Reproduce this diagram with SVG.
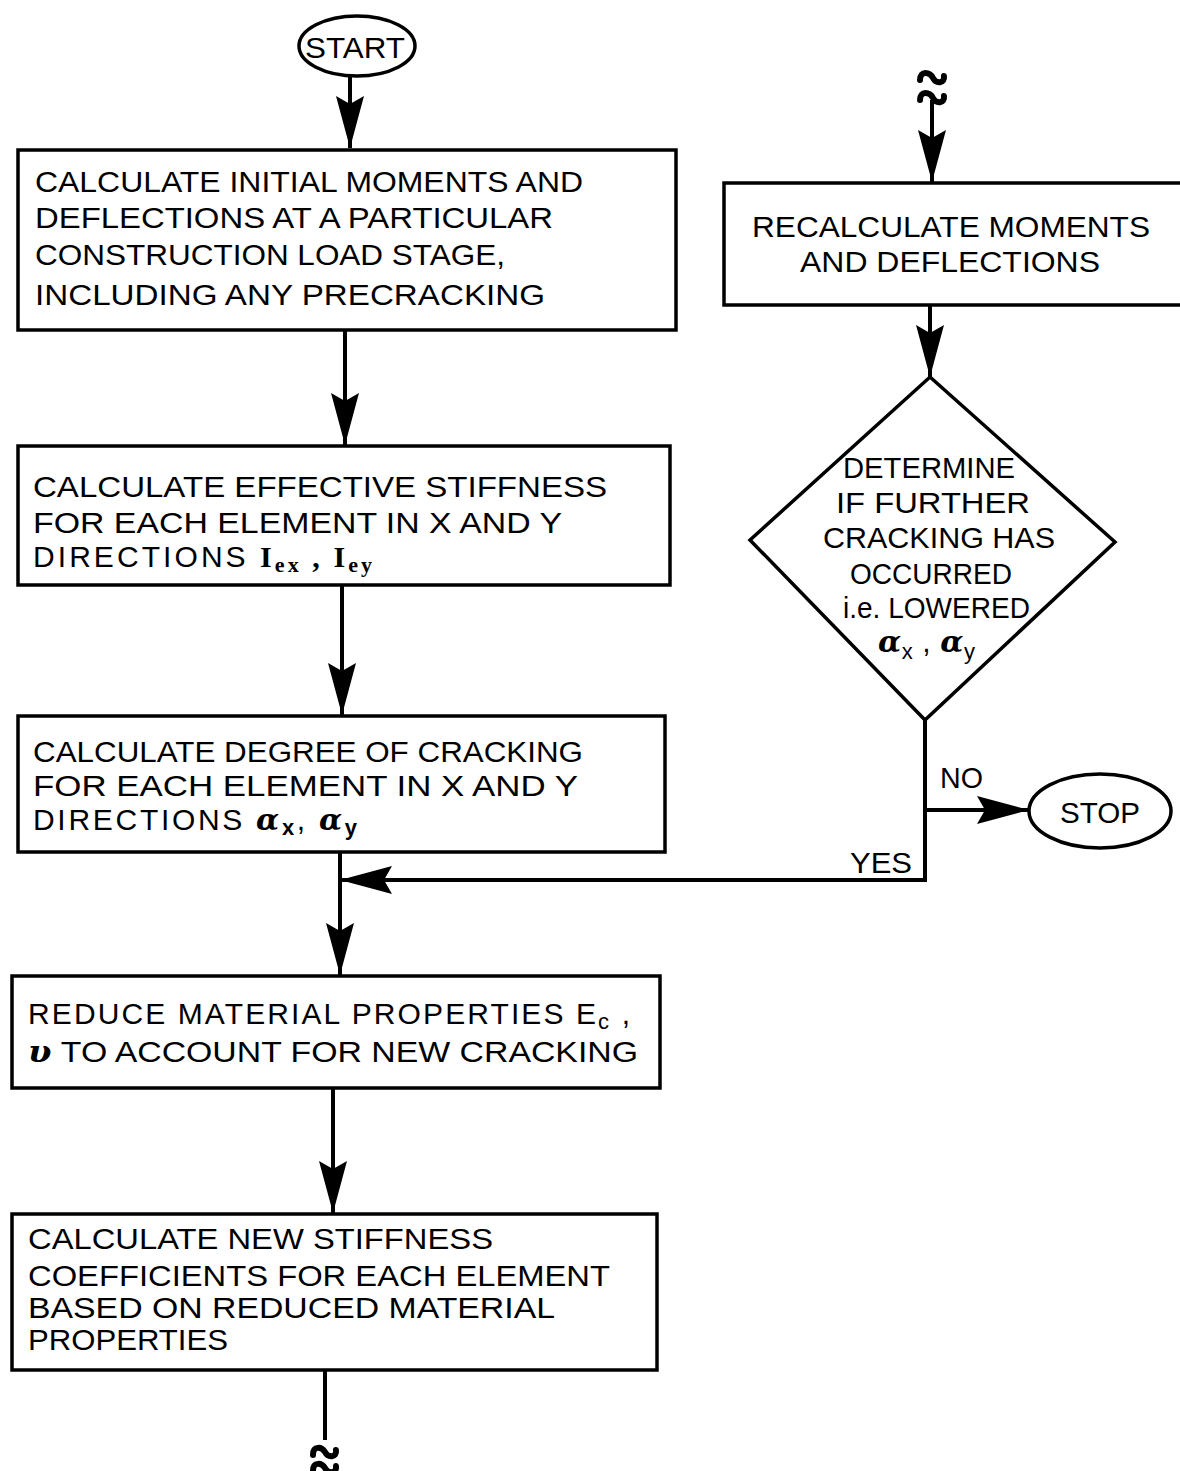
<svg xmlns="http://www.w3.org/2000/svg" width="1180" height="1471" viewBox="0 0 1180 1471">
<style>
.box{fill:#fff;stroke:#000;stroke-width:3.5}
.t{font-family:"Liberation Sans",Arial,sans-serif;font-size:30px;fill:#000}
.ln{fill:none;stroke:#000;stroke-width:4}
.brk{fill:none;stroke:#000;stroke-width:6;stroke-linecap:round}
.sub{font-size:22px}
.gr{font-family:"DejaVu Serif",serif;font-style:italic;font-weight:bold}
</style>
<defs>
<marker id="ah" markerUnits="userSpaceOnUse" markerWidth="56" markerHeight="30" refX="52" refY="14" orient="auto">
<path d="M0,0 L52,14 L0,28 L8,14 z" fill="#000"/>
</marker>
</defs>
<rect width="1180" height="1471" fill="#fff"/>

<g id="connectors">
<line class="ln" x1="350" y1="76" x2="350" y2="148" marker-end="url(#ah)"/>
<line class="ln" x1="345" y1="330" x2="345" y2="445" marker-end="url(#ah)"/>
<line class="ln" x1="342" y1="585" x2="342" y2="715" marker-end="url(#ah)"/>
<line class="ln" x1="340" y1="852" x2="340" y2="975" marker-end="url(#ah)"/>
<line class="ln" x1="333" y1="1088" x2="333" y2="1213" marker-end="url(#ah)"/>
<line class="ln" x1="325" y1="1370" x2="325" y2="1440"/>
<line class="ln" x1="932" y1="100" x2="932" y2="182" marker-end="url(#ah)"/>
<line class="ln" x1="930" y1="305" x2="930" y2="377" marker-end="url(#ah)"/>
<polyline class="ln" points="925,720 925,880 340,880" marker-end="url(#ah)"/>
<line class="ln" x1="925" y1="810" x2="1029" y2="810" marker-end="url(#ah)"/>
<path class="brk" d="M920,80 C920,70 930,72 933,78 C936,84 945,84 944,76"/>
<path class="brk" d="M920,100 C920,90 930,92 933,98 C936,104 945,104 944,96"/>
<path class="brk" d="M313,1455 C313,1445 322,1447 325,1452 C328,1458 337,1458 336,1450"/>
<path class="brk" d="M313,1471 C313,1461 322,1463 325,1468 C328,1474 337,1474 336,1466"/>
<text class="t" x="940" y="788" textLength="43" lengthAdjust="spacingAndGlyphs">NO</text>
<text class="t" x="850" y="873" textLength="62" lengthAdjust="spacingAndGlyphs">YES</text>
</g>

<g id="start">
<ellipse cx="357" cy="46" rx="58" ry="30" class="box"/>
<text class="t" x="305" y="58" textLength="100" lengthAdjust="spacingAndGlyphs">START</text>
</g>

<g id="box1">
<rect class="box" x="18" y="150" width="658" height="180"/>
<text class="t" x="35" y="192" textLength="548" lengthAdjust="spacingAndGlyphs">CALCULATE INITIAL MOMENTS AND</text>
<text class="t" x="35" y="228" textLength="518" lengthAdjust="spacingAndGlyphs">DEFLECTIONS AT A PARTICULAR</text>
<text class="t" x="35" y="265" textLength="470" lengthAdjust="spacingAndGlyphs">CONSTRUCTION LOAD STAGE,</text>
<text class="t" x="35" y="305" textLength="510" lengthAdjust="spacingAndGlyphs">INCLUDING ANY PRECRACKING</text>
</g>

<g id="box2">
<rect class="box" x="18" y="446" width="652" height="139"/>
<text class="t" x="33" y="497" textLength="574" lengthAdjust="spacingAndGlyphs">CALCULATE EFFECTIVE STIFFNESS</text>
<text class="t" x="33" y="533" textLength="529" lengthAdjust="spacingAndGlyphs">FOR EACH ELEMENT IN X AND Y</text>
<text class="t" x="33" y="567" textLength="339" lengthAdjust="spacing">DIRECTIONS  <tspan font-family="Liberation Serif" font-weight="bold">I<tspan class="sub" dy="5">ex</tspan><tspan dy="-5"> , I</tspan><tspan class="sub" dy="5">ey</tspan></tspan></text>
</g>

<g id="box3">
<rect class="box" x="18" y="716" width="647" height="136"/>
<text class="t" x="33" y="762" textLength="550" lengthAdjust="spacingAndGlyphs">CALCULATE DEGREE OF CRACKING</text>
<text class="t" x="33" y="796" textLength="545" lengthAdjust="spacingAndGlyphs">FOR EACH ELEMENT IN X AND Y</text>
<text class="t" x="33" y="830" textLength="324" lengthAdjust="spacing">DIRECTIONS <tspan class="gr">α</tspan><tspan class="sub" dy="5" font-weight="bold">x</tspan><tspan dy="-5">, </tspan><tspan class="gr">α</tspan><tspan class="sub" dy="5" font-weight="bold">y</tspan></text>
</g>

<g id="box4">
<rect class="box" x="12" y="976" width="648" height="112"/>
<text class="t" x="28" y="1024" textLength="602" lengthAdjust="spacing">REDUCE MATERIAL PROPERTIES E<tspan class="sub" font-size="20" dy="5">c</tspan><tspan dy="-5"> ,</tspan></text>
<text class="t" x="28" y="1062" textLength="610" lengthAdjust="spacingAndGlyphs"><tspan class="gr" font-weight="normal">υ</tspan>  TO ACCOUNT FOR NEW CRACKING</text>
</g>

<g id="box5">
<rect class="box" x="12" y="1214" width="645" height="156"/>
<text class="t" x="28" y="1249" textLength="465" lengthAdjust="spacingAndGlyphs">CALCULATE NEW STIFFNESS</text>
<text class="t" x="28" y="1286" textLength="582" lengthAdjust="spacingAndGlyphs">COEFFICIENTS FOR EACH ELEMENT</text>
<text class="t" x="28" y="1318" textLength="527" lengthAdjust="spacingAndGlyphs">BASED ON REDUCED MATERIAL</text>
<text class="t" x="28" y="1350" textLength="200" lengthAdjust="spacingAndGlyphs">PROPERTIES</text>
</g>

<g id="recalc">
<rect class="box" x="724" y="183" width="470" height="122"/>
<text class="t" x="752" y="237" textLength="398" lengthAdjust="spacingAndGlyphs">RECALCULATE MOMENTS</text>
<text class="t" x="800" y="272" textLength="300" lengthAdjust="spacingAndGlyphs">AND DEFLECTIONS</text>
</g>

<g id="decision">
<polygon class="box" points="930,377 1115,542 925,720 750,540"/>
<text class="t" x="843" y="478" textLength="172" lengthAdjust="spacingAndGlyphs">DETERMINE</text>
<text class="t" x="836" y="513" textLength="194" lengthAdjust="spacingAndGlyphs">IF  FURTHER</text>
<text class="t" x="823" y="548" textLength="232" lengthAdjust="spacingAndGlyphs">CRACKING HAS</text>
<text class="t" x="850" y="584" textLength="162" lengthAdjust="spacingAndGlyphs">OCCURRED</text>
<text class="t" x="843" y="618" textLength="187" lengthAdjust="spacingAndGlyphs">i.e. LOWERED</text>
<text class="t" x="878" y="652" textLength="97" lengthAdjust="spacing"><tspan class="gr">α</tspan><tspan class="sub" dy="7">x</tspan><tspan dy="-7"> , </tspan><tspan class="gr">α</tspan><tspan class="sub" dy="7">y</tspan></text>
</g>

<g id="stop">
<ellipse cx="1100" cy="811" rx="71" ry="37" class="box"/>
<text class="t" x="1060" y="823" textLength="80" lengthAdjust="spacingAndGlyphs">STOP</text>
</g>
</svg>
